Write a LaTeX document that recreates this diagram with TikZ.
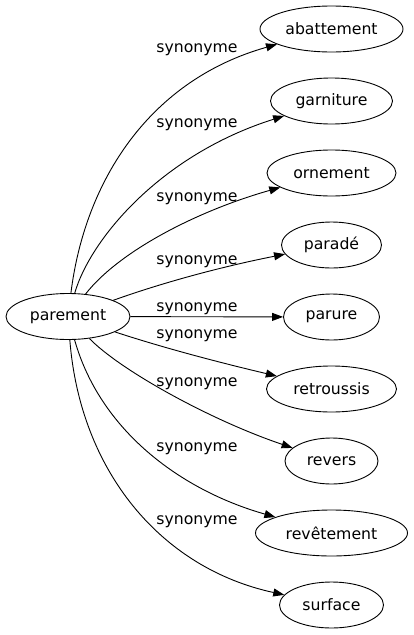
\documentclass[tikz,border=0pt]{standalone}
\usepackage{fontspec}
\setmainfont{DejaVu Sans}
\usetikzlibrary{arrows.meta,shapes.geometric}

\tikzset{
	nodo/.style={draw, ellipse, minimum height=46pt, inner sep=0pt, line width=0.9pt, font=\fontsize{15.7}{18}\selectfont},
	etiqueta/.style={anchor=base, inner sep=0pt, font=\fontsize{15.7}{18}\selectfont},
	flecha/.style={draw, line width=0.9pt, -{Triangle[length=11pt,width=8pt]}}
}

\begin{document}
\begin{tikzpicture}[x=1pt, y=-1pt]
	% Marco de la imagen 413 x 635
	\useasboundingbox (0,0) rectangle (413,635);
	
	% Nodo central
	\node[nodo, minimum width=124pt] (parement) at (68,316.5) {parement};
	
	% Nodos de la derecha
	\node[nodo, minimum width=143pt] (abattement) at (331.5,29) {abattement};
	\node[nodo, minimum width=122pt] (garniture) at (331.5,101) {garniture};
	\node[nodo, minimum width=129pt] (ornement) at (331.5,173) {ornement};
	\node[nodo, minimum width=100pt] (parade) at (331.5,245) {paradé};
	\node[nodo, minimum width=96pt] (parure) at (331.5,317) {parure};
	\node[nodo, minimum width=130pt] (retroussis) at (331.5,389) {retroussis};
	\node[nodo, minimum width=93pt] (revers) at (331.5,461) {revers};
	\node[nodo, minimum width=152pt] (revetement) at (331.5,533) {revêtement};
	\node[nodo, minimum width=104pt] (surface) at (331.5,605) {surface};
	
	% Flechas
	\draw[flecha] (parement) .. controls (85,180) and (150,80) .. (abattement);
	\draw[flecha] (parement) .. controls (90,240) and (160,155) .. (garniture);
	\draw[flecha] (parement) .. controls (120,250) and (200,210) .. (ornement);
	\draw[flecha] (parement) .. controls (170,280) and (230,265) .. (parade);
	\draw[flecha] (parement) -- (parure);
	\draw[flecha] (parement) .. controls (170,350) and (230,365) .. (retroussis);
	\draw[flecha] (parement) .. controls (120,370) and (210,420) .. (revers);
	\draw[flecha] (parement) .. controls (100,430) and (180,490) .. (revetement);
	\draw[flecha] (parement) .. controls (80,470) and (160,568) .. (surface);
	
	% Etiquetas
	\node[etiqueta] (e1) at (197,52) {synonyme};
	\node[etiqueta] (e2) at (197,127) {synonyme};
	\node[etiqueta] (e3) at (197,201) {synonyme};
	\node[etiqueta] (e4) at (197,264) {synonyme};
	\node[etiqueta] (e5) at (197,311) {synonyme};
	\node[etiqueta] (e6) at (197,338) {synonyme};
	\node[etiqueta] (e7) at (197,386) {synonyme};
	\node[etiqueta] (e8) at (197,451) {synonyme};
	\node[etiqueta] (e9) at (197,524) {synonyme};
	
\end{tikzpicture}
\end{document}
